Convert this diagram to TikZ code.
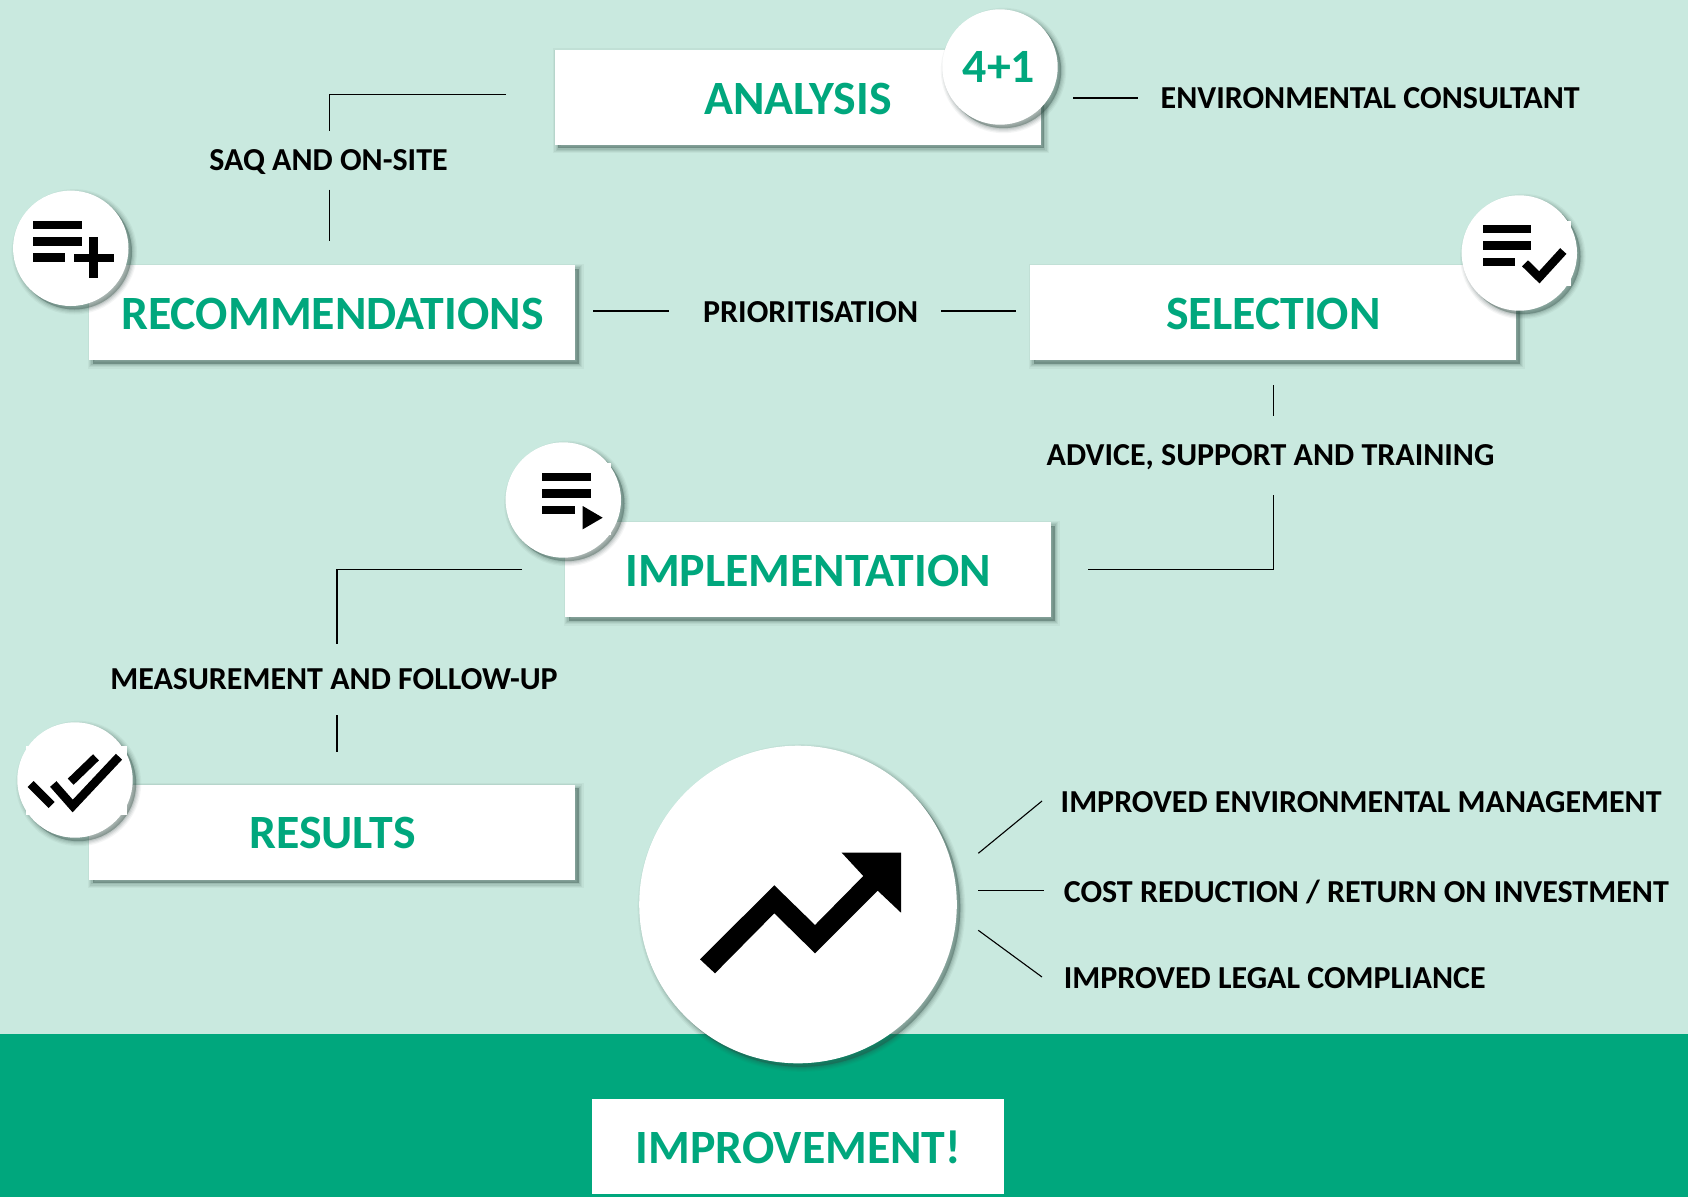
\documentclass[tikz,border=0pt]{standalone}
\usepackage{fontspec}
\setmainfont{Carlito}
\definecolor{paleback}{HTML}{C9E9DF}
\definecolor{brandgreen}{HTML}{00A77D}
\definecolor{shadowcol}{HTML}{2F4A42}
\tikzset{
  x=1pt,y=-1pt,
  softshadow/.style={
    preaction={fill=shadowcol,draw=shadowcol,line width=10pt,opacity=.05,transform canvas={shift={(3.5pt,-3.5pt)}}},
    preaction={fill=shadowcol,draw=shadowcol,line width=7.5pt,opacity=.07,transform canvas={shift={(3.5pt,-3.5pt)}}},
    preaction={fill=shadowcol,draw=shadowcol,line width=5pt,opacity=.09,transform canvas={shift={(3.5pt,-3.5pt)}}},
    preaction={fill=shadowcol,draw=shadowcol,line width=2.5pt,opacity=.11,transform canvas={shift={(3.5pt,-3.5pt)}}},
    preaction={fill=shadowcol,opacity=.12,transform canvas={shift={(3.5pt,-3.5pt)}}}},
  stagebox/.style={fill=white,softshadow,inner sep=0pt,minimum width=486pt,minimum height=95pt},
  iconcirc/.style={circle,fill=white,softshadow,inner sep=0pt,minimum size=115.4pt},
  titletext/.style={text=brandgreen,font=\fontsize{47.8}{48}\selectfont\bfseries,anchor=base,inner sep=0pt},
  labeltext/.style={text=black,font=\fontsize{32}{32}\selectfont\bfseries,anchor=base,inner sep=0pt},
  leftlabel/.style={labeltext,anchor=base west},
  connector/.style={draw=black,line width=1.1pt},
  iconbar/.style={fill=black},
  iconstroke/.style={draw=black,line width=8.5pt,miter limit=10}
}
\begin{document}
\begin{tikzpicture}
\useasboundingbox (0,0) rectangle (1688,1197);
\fill[paleback] (0,0) rectangle (1688,1197);
\fill[brandgreen] (0,1034) rectangle (1688,1197);

% stage boxes
\node[stagebox] (analysisbox) at (797.7,97.3) {};
\node[stagebox] (recbox) at (332,312.5) {};
\node[stagebox] (selbox) at (1273,312.5) {};
\node[stagebox] (implbox) at (808,569.5) {};
\node[stagebox] (resbox) at (332,832) {};
\node[fill=white,inner sep=0pt,minimum width=412pt,minimum height=95pt] (impbox) at (798,1146.5) {};

% connector end points
\coordinate (a1) at (506,94.7);
\coordinate (a2) at (329.4,94.7);
\coordinate (a3) at (329.4,131.3);
\coordinate (b1) at (329.4,189.5);
\coordinate (b2) at (329.4,241);
\coordinate (c1) at (1073,98);
\coordinate (c2) at (1138,98);
\coordinate (d1) at (593,311);
\coordinate (d2) at (668.5,311);
\coordinate (e1) at (941,311);
\coordinate (e2) at (1016,311);
\coordinate (f1) at (1273.5,385.4);
\coordinate (f2) at (1273.5,415.5);
\coordinate (g1) at (1273.5,495);
\coordinate (g2) at (1273.5,569.5);
\coordinate (g3) at (1088,569.5);
\coordinate (h1) at (522,569.5);
\coordinate (h2) at (337,569.5);
\coordinate (h3) at (337,644);
\coordinate (i1) at (337,715);
\coordinate (i2) at (337,751.5);
\coordinate (j1) at (978.3,853.3);
\coordinate (j2) at (1042,801);
\coordinate (k1) at (978.3,890.3);
\coordinate (k2) at (1044,890.3);
\coordinate (l1) at (978.3,930.3);
\coordinate (l2) at (1042,977);
\draw[connector] (a1) -- (a2) -- (a3);
\draw[connector] (b1) -- (b2);
\draw[connector] (c1) -- (c2);
\draw[connector] (d1) -- (d2);
\draw[connector] (e1) -- (e2);
\draw[connector] (f1) -- (f2);
\draw[connector] (g1) -- (g2) -- (g3);
\draw[connector] (h1) -- (h2) -- (h3);
\draw[connector] (i1) -- (i2);
\draw[connector] (j1) -- (j2);
\draw[connector] (k1) -- (k2);
\draw[connector] (l1) -- (l2);

% icon circles
\node[iconcirc] (analysiscirc) at (1000,67) {};
\node[iconcirc] (reccirc) at (70.8,248.3) {};
\node[iconcirc] (selcirc) at (1519.3,253) {};
\node[iconcirc] (implcirc) at (563.3,500) {};
\node[iconcirc] (rescirc) at (75,780) {};
\node[circle,fill=white,softshadow,inner sep=0pt,minimum size=317.6pt] (bigcirc) at (798,904.5) {};

% small white corners of the icon pictures
\fill[white] (1560,221) rectangle (1571,286);
\fill[white] (600,463) rectangle (610.5,535);
\fill[white] (26,746) rectangle (126.7,815);

% titles
\node[titletext] (t1) at (798,114.5) {ANALYSIS};
\node[titletext] (t2) at (332.5,329.5) {RECOMMENDATIONS};
\node[titletext] (t3) at (1273.5,329.5) {SELECTION};
\node[titletext] (t4) at (808,586.5) {IMPLEMENTATION};
\node[titletext] (t5) at (332.5,848.5) {RESULTS};
\node[titletext] (t6) at (798.5,1163) {IMPROVEMENT!};
\node[titletext] (t7) at (999,82.5) {4+1};

% labels
\node[leftlabel] (l-env) at (1160.5,108.7) {ENVIRONMENTAL CONSULTANT};
\node[labeltext] (l-saq) at (328.5,170) {SAQ AND ON-SITE};
\node[labeltext] (l-pri) at (810.6,322) {PRIORITISATION};
\node[labeltext] (l-adv) at (1270.5,465) {ADVICE, SUPPORT AND TRAINING};
\node[labeltext] (l-mea) at (334,689) {MEASUREMENT AND FOLLOW-UP};
\node[leftlabel] (l-ime) at (1060.5,812) {IMPROVED ENVIRONMENTAL MANAGEMENT};
\node[leftlabel] (l-cos) at (1063.6,902) {COST REDUCTION / RETURN ON INVESTMENT};
\node[leftlabel] (l-leg) at (1063.6,988) {IMPROVED LEGAL COMPLIANCE};

% icon: list plus
\fill[iconbar] (33,220.7) rectangle (81.5,229);
\fill[iconbar] (33,237) rectangle (81.5,245.7);
\fill[iconbar] (33,253) rectangle (65,261.5);
\fill[iconbar] (73.7,253.5) rectangle (114,261.5);
\fill[iconbar] (89,237) rectangle (98,278);
% icon: list check
\fill[iconbar] (1482.7,225) rectangle (1531,233);
\fill[iconbar] (1482.7,241.3) rectangle (1531,249.7);
\fill[iconbar] (1482.7,257.5) rectangle (1515,265.7);
\draw[iconstroke] (1525,263.3) -- (1539.3,277.3) -- (1563.3,251);
% icon: list play
\fill[iconbar] (541.7,472.7) rectangle (590.5,481);
\fill[iconbar] (541.7,489) rectangle (590.5,497.5);
\fill[iconbar] (541.7,505.5) rectangle (574.5,513.7);
\fill[iconbar] (582.7,506) -- (582.7,529.3) -- (602.7,517.7) -- cycle;
% icon: double check
\draw[iconstroke] (30.7,784) -- (51.7,805);
\draw[iconstroke] (53.3,784) -- (72.7,806) -- (119,756.7);
\draw[iconstroke] (70.7,781.7) -- (96,757.3);
% icon: rising arrow
\fill[black] (700,959.3) -- (715,973.3) -- (774.3,913.3) -- (815,953.3) -- (877.7,890.7) -- (901,912.7) -- (901,852.7) -- (841.7,852.7) -- (863.3,876) -- (815,925) -- (774.3,885.3) -- cycle;
\end{tikzpicture}
\end{document}
